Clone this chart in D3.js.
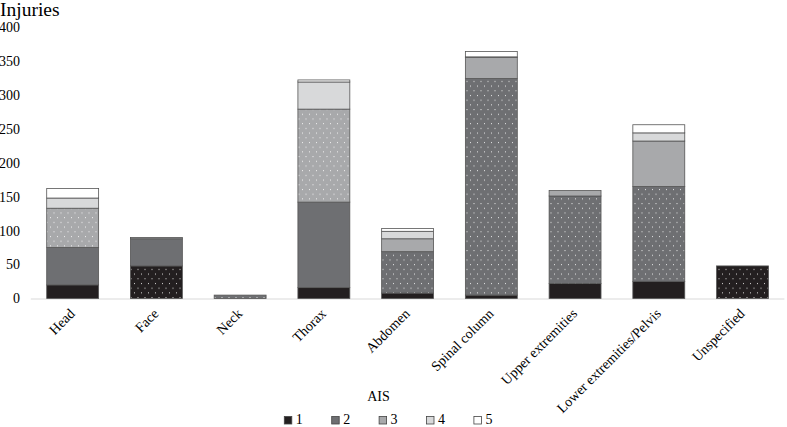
<!DOCTYPE html>
<html><head><meta charset="utf-8">
<script src="https://cdn.jsdelivr.net/npm/d3@7"></script>
<style>body{margin:0;background:#fff}svg{display:block}text{font-family:"Liberation Serif","Times New Roman",serif;fill:#000}</style>
</head><body><svg id="c" width="787" height="427"></svg>
<script>
const categories = ["Head","Face","Neck","Thorax","Abdomen","Spinal column","Upper extremities","Lower extremities/Pelvis","Unspecified"];
const levels = ["1","2","3","4","5"];
const ais1 = [20, 48, 0, 16, 8, 5, 22, 25, 48];
const ais2 = [55, 40, 5, 126, 61, 319, 129, 140, 0];
const ais3 = [58, 2, 0, 137, 19, 31, 8, 67, 0];
const ais4 = [15, 0, 0, 40, 11, 1, 0, 12, 0];
const ais5 = [14, 0, 0, 3, 4, 8, 0, 12, 0];
const yTicks = [0,50,100,150,200,250,300,350,400];
const colors = ["#231f20","#6e6f72","#a8a9ab","#d8d9da","#ffffff"];

const series = [ais1, ais2, ais3, ais4, ais5];
const rows = categories.map((c,i)=>{const r={cat:c}; levels.forEach((l,k)=>r[l]=series[k][i]); return r;});
const stacked = d3.stack().keys(levels)(rows);

const svg = d3.select("#c");
const x = d3.scaleBand().domain(categories).range([30.8,784.4]).paddingInner(0.38).paddingOuter(0.19);
const y = d3.scaleLinear().domain([0,400]).range([298.5,27]);

const defs = svg.append("defs");
colors.forEach((col,k)=>{
  const p = defs.append("pattern").attr("id","dot"+k).attr("patternUnits","userSpaceOnUse").attr("width",7).attr("height",9.4);
  p.append("rect").attr("width",7).attr("height",9.4).attr("fill",col);
  p.append("rect").attr("x",1).attr("y",1).attr("width",1).attr("height",1).attr("fill","#fff").attr("opacity",0.85);
  p.append("rect").attr("x",4.5).attr("y",5.7).attr("width",1).attr("height",1).attr("fill","#fff").attr("opacity",0.85);
});

// title
svg.append("text").attr("x",0).attr("y",16).style("font-size","19.5px").text("Injuries");

// y tick labels
svg.append("g").selectAll("text").data(yTicks).join("text")
  .attr("x",20).attr("y",d=>y(d)).attr("dy","0.35em").attr("text-anchor","end").style("font-size","14px").text(d=>d);

// axis baseline
svg.append("line").attr("x1",30.8).attr("x2",784.4).attr("y1",y(0)+0.5).attr("y2",y(0)+0.5).attr("stroke","#d9d9d9").attr("stroke-width",1);

// bars
const maxIdx = categories.map((c,i)=>{let m=0; series.forEach((s,k)=>{if(s[i]>series[m][i]) m=k;}); return m;});
stacked.forEach((layer,k)=>{
  svg.append("g").selectAll("rect").data(layer.map((d,i)=>({d,i}))).join("rect")
    .filter(o=>o.d[1]-o.d[0]>0)
    .attr("x",o=>x(categories[o.i]))
    .attr("width",x.bandwidth())
    .attr("y",o=>y(o.d[1]))
    .attr("height",o=>y(o.d[0])-y(o.d[1]))
    .attr("fill",o=>maxIdx[o.i]===k?"url(#dot"+k+")":colors[k])
    .attr("stroke","#555").attr("stroke-width",0.8);
});

// x labels
svg.append("g").selectAll("text").data(categories).join("text")
  .attr("text-anchor","end")
  .attr("transform",d=>`translate(${x(d)+x.bandwidth()/2+3},${y(0)+16}) rotate(-45)`)
  .style("font-size","14px").text(d=>d);

// axis title
svg.append("text").attr("x",378.5).attr("y",401).attr("text-anchor","middle").style("font-size","14px").text("AIS");

// legend
const lg = svg.append("g").selectAll("g").data(levels).join("g")
  .attr("transform",(d,i)=>`translate(${284.3+i*47.4},416.5)`);
lg.append("rect").attr("width",7.5).attr("height",7.5).attr("fill",(d,i)=>colors[i]).attr("stroke","#444").attr("stroke-width",0.8);
lg.append("text").attr("x",11.5).attr("y",7.8).style("font-size","14px").text(d=>d);
</script></body></html>
